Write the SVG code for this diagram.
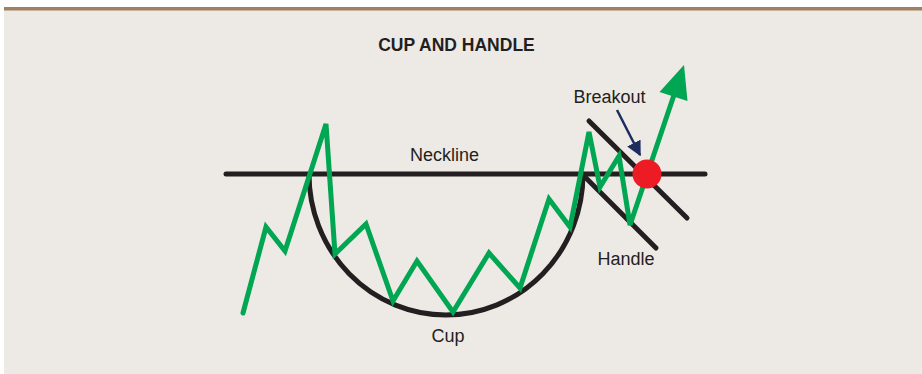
<svg xmlns="http://www.w3.org/2000/svg" width="922" height="374" viewBox="0 0 922 374">
<defs>
<style>
.lbl{font-family:"Liberation Sans",Arial,sans-serif;font-size:18px;fill:#231F20}
.title{font-family:"Liberation Sans",Arial,sans-serif;font-size:17.5px;font-weight:bold;fill:#231F20}
.blk{fill:none;stroke:#231F20;stroke-width:5;stroke-linecap:round;stroke-linejoin:round}
.grn{fill:none;stroke:#00A651;stroke-width:5;stroke-linecap:round;stroke-linejoin:miter}
</style>
<marker id="navyHead" viewBox="0 0 10 10" refX="9" refY="5" markerWidth="6" markerHeight="6" orient="auto" markerUnits="strokeWidth">
<path d="M0,0 L10,5 L0,10 z" fill="#1C2D5E"/>
</marker>
</defs>
<rect x="0" y="0" width="922" height="374" fill="#FFFFFF"/>
<rect x="4" y="10" width="918" height="364" fill="#EDE9E5"/>
<rect x="4" y="7" width="918" height="3.5" fill="#A0805F"/>
<text class="title" x="456.5" y="51" text-anchor="middle">CUP AND HANDLE</text>
<g id="connectors">
<line id="neckline-line" class="blk" x1="226" y1="174" x2="705" y2="174"/>
<path id="cup-arc" class="blk" d="M309,174 A137,141 0 0 0 583,174"/>
<line id="handle-upper" class="blk" x1="589" y1="121" x2="687" y2="218"/>
<line id="handle-lower" class="blk" x1="583" y1="175" x2="656" y2="248"/>
<polyline id="price" class="grn" points="243,313 266,227 285,251 326,124 335,254 366,224 393,301 417,261 453,312 489,253 520,288 549,199 570,227 589,132 600,187 619,156 630,225 674,95"/>
<polygon id="price-head" points="684,65 659.5,92 687.5,101" fill="#00A651"/>
<line id="breakout-arrow" x1="617" y1="110" x2="640" y2="155" stroke="#1C2D5E" stroke-width="2.5" marker-end="url(#navyHead)"/>
</g>
<g id="breakout-point"><circle cx="647" cy="174" r="14.5" fill="#ED1C24"/></g>
<g id="neckline"><text class="lbl" x="444.5" y="161" text-anchor="middle">Neckline</text></g>
<g id="breakout"><text class="lbl" x="609.5" y="103" text-anchor="middle">Breakout</text></g>
<g id="handle"><text class="lbl" x="626" y="265" text-anchor="middle">Handle</text></g>
<g id="cup"><text class="lbl" x="448" y="342" text-anchor="middle">Cup</text></g>
</svg>
